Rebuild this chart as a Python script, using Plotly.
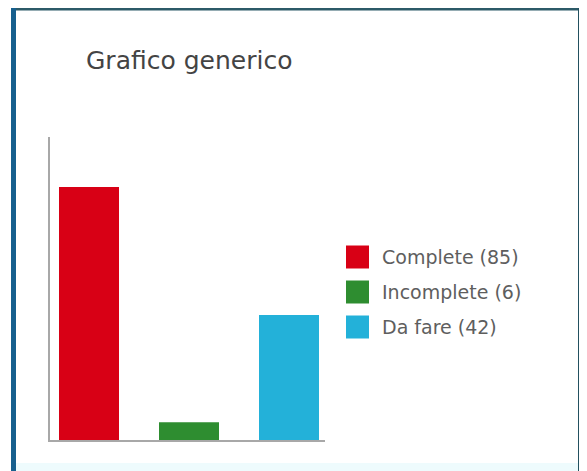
import plotly.graph_objects as go

# ---- data ----
categories = ["Complete", "Incomplete", "Da fare"]
values = [85, 6, 42]
legend_labels = ["Complete (85)", "Incomplete (6)", "Da fare (42)"]
colors = ["#D80015", "#2E8D30", "#23B1D9"]
title_text = "Grafico generico"

# page has an 8px body margin; figure sized to fill the rest of the window
OFF = 8
W, H = 587 - OFF, 471 - OFF

def px(x):
    return (x - OFF) / W

def py(y):
    return 1 - (y - OFF) / H

fig = go.Figure()
fig.add_trace(go.Bar(
    x=categories, y=values, marker=dict(color=colors, line=dict(width=0)),
    width=0.6, showlegend=False, hoverinfo="x+y",
))

shapes = []
# panel background and border
shapes.append(dict(type="rect", xref="paper", yref="paper",
                   x0=px(11), x1=px(583), y0=py(480), y1=py(8),
                   fillcolor="#ffffff", line=dict(width=0), layer="below"))
shapes.append(dict(type="rect", xref="paper", yref="paper",
                   x0=px(16), x1=px(578), y0=py(471), y1=py(463),
                   fillcolor="#eefbfd", line=dict(width=0), layer="below"))
shapes.append(dict(type="rect", xref="paper", yref="paper",
                   x0=px(11), x1=px(583), y0=py(10.5), y1=py(8),
                   fillcolor="#2c5a68", line=dict(width=0)))
shapes.append(dict(type="rect", xref="paper", yref="paper",
                   x0=px(11), x1=px(16), y0=py(480), y1=py(8),
                   fillcolor="#17608e", line=dict(width=0)))
shapes.append(dict(type="rect", xref="paper", yref="paper",
                   x0=px(578), x1=px(583), y0=py(480), y1=py(8),
                   fillcolor="#22505f", line=dict(width=0)))

# custom legend
annotations = []
for i, (lab, col) in enumerate(zip(legend_labels, colors)):
    cy = 257 + i * 35
    shapes.append(dict(type="rect", xref="paper", yref="paper",
                       x0=px(346), x1=px(369), y0=py(cy + 11.5), y1=py(cy - 11.5),
                       fillcolor=col, line=dict(width=0)))
    annotations.append(dict(text=lab, xref="paper", yref="paper",
                            x=px(380), y=py(cy), xanchor="left", yanchor="middle",
                            showarrow=False,
                            font=dict(family="DejaVu Sans", size=19, color="#5e5e5e")))

annotations.append(dict(text=title_text, xref="paper", yref="paper",
                        x=px(84), y=py(60), xanchor="left", yanchor="middle",
                        showarrow=False,
                        font=dict(family="DejaVu Sans", size=25, color="#444444")))

fig.update_layout(
    width=W, height=H,
    margin=dict(l=0, r=0, t=0, b=0),
    paper_bgcolor="#ffffff", plot_bgcolor="rgba(0,0,0,0)",
    shapes=shapes, annotations=annotations,
    xaxis=dict(domain=[px(50), px(325)], range=[-0.39, 2.36],
               showticklabels=False, ticks="", showgrid=False, zeroline=False,
               showline=True, linecolor="#a8a8a8", linewidth=2),
    yaxis=dict(domain=[py(440), py(137)], range=[0, 101.8],
               showticklabels=False, ticks="", showgrid=False, zeroline=False,
               showline=True, linecolor="#a8a8a8", linewidth=2),
    bargap=0.4,
)

fig.write_html("out.html")
